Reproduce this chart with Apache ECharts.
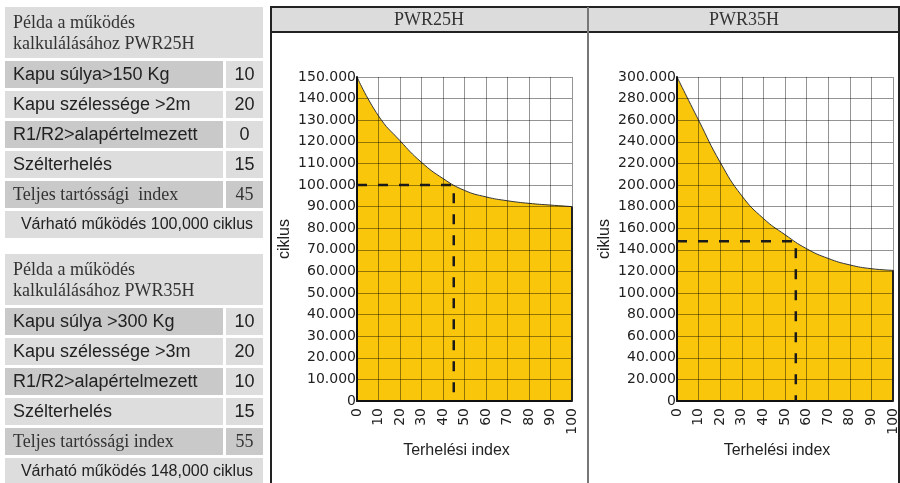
<!DOCTYPE html>
<html>
<head>
<meta charset="utf-8">
<script src="https://cdn.jsdelivr.net/npm/echarts@6/dist/echarts.min.js"></script>
<style>
  html, body { margin: 0; padding: 0; background: #fff; }
  #main { width: 900px; height: 483px; }
</style>
</head>
<body>
<div id="main"></div>
<script>
// adatok
var loadIndex = [0, 10, 20, 30, 40, 50, 60, 70, 80, 90, 100];
var cycles25 = [150000, 132000, 120500, 110500, 103000, 97500, 94500, 92700, 91500, 90700, 90000];
var cycles35 = [300000, 260000, 221000, 190000, 169000, 154000, 141000, 132000, 126000, 122500, 121000];
var refPoint25 = [45, 100000];
var refPoint35 = [55, 148000];
var panelTitles = ['PWR25H', 'PWR35H'];

var table25Title = ['Példa a működés', 'kalkulálásához PWR25H'];
var table25Labels = ['Kapu súlya>150 Kg', 'Kapu szélessége >2m', 'R1/R2>alapértelmezett', 'Szélterhelés', 'Teljes tartóssági  index'];
var table25Values = [10, 20, 0, 15, 45];
var table25Result = 'Várható működés 100,000 ciklus';

var table35Title = ['Példa a működés', 'kalkulálásához PWR35H'];
var table35Labels = ['Kapu súlya >300 Kg', 'Kapu szélessége >3m', 'R1/R2>alapértelmezett', 'Szélterhelés', 'Teljes tartóssági index'];
var table35Values = [10, 20, 10, 15, 55];
var table35Result = 'Várható működés 148,000 ciklus';

var SANS = "'Liberation Sans', Arial, sans-serif";
var SERIF = "'Liberation Serif', 'Times New Roman', serif";
var DARK = '#c9c9c9';
var LIGHT = '#dddddd';

function thousands(v) {
    return String(v).replace(/\B(?=(\d{3})+(?!\d))/g, '.');
}

// bal oldali táblázat
function buildTable(top, title, labels, values, result) {
    var els = [];
    els.push({ type: 'rect', shape: { x: 5, y: top, width: 258, height: 51 }, style: { fill: LIGHT } });
    title.forEach(function (line, i) {
        els.push({ type: 'text', x: 13, y: top + 16 + i * 21,
            style: { text: line, font: '18px ' + SERIF, fill: '#333', verticalAlign: 'middle' } });
    });
    labels.forEach(function (lab, i) {
        var y = top + 54 + i * 30;
        var last = i === labels.length - 1;
        els.push({ type: 'rect', shape: { x: 5, y: y, width: 218, height: 27 }, style: { fill: i % 2 === 0 ? DARK : LIGHT } });
        els.push({ type: 'rect', shape: { x: 226, y: y, width: 37, height: 27 }, style: { fill: last ? DARK : LIGHT } });
        els.push({ type: 'text', x: 13, y: y + 14,
            style: { text: lab, font: '18px ' + (last ? SERIF : SANS), fill: last ? '#333' : '#222', verticalAlign: 'middle' } });
        els.push({ type: 'text', x: 244.5, y: y + 14,
            style: { text: String(values[i]), font: '18px ' + (last ? SERIF : SANS), fill: last ? '#333' : '#222', align: 'center', verticalAlign: 'middle' } });
    });
    var ry = top + 54 + labels.length * 30;
    els.push({ type: 'rect', shape: { x: 5, y: ry, width: 258, height: 27 }, style: { fill: LIGHT } });
    els.push({ type: 'text', x: 137, y: ry + 14,
        style: { text: result, font: '16px ' + SANS, fill: '#222', align: 'center', verticalAlign: 'middle' } });
    return els;
}

var graphics = [].concat(
    buildTable(7, table25Title, table25Labels, table25Values, table25Result),
    buildTable(254, table35Title, table35Labels, table35Values, table35Result),
    [
        { type: 'rect', shape: { x: 271, y: 7, width: 628, height: 25 }, style: { fill: '#dcdcdc' } },
        { type: 'rect', shape: { x: 271, y: 7, width: 628, height: 490 }, style: { fill: null, stroke: '#222', lineWidth: 2 } },
        { type: 'line', shape: { x1: 270, y1: 32, x2: 900, y2: 32 }, style: { stroke: '#222', lineWidth: 2 } },
        { type: 'line', shape: { x1: 588, y1: 7, x2: 588, y2: 483 }, style: { stroke: '#777', lineWidth: 2 } },
        { type: 'text', x: 429, y: 20, style: { text: panelTitles[0], font: '18px ' + SERIF, fill: '#333', align: 'center', verticalAlign: 'middle' } },
        { type: 'text', x: 744, y: 20, style: { text: panelTitles[1], font: '18px ' + SERIF, fill: '#333', align: 'center', verticalAlign: 'middle' } }
    ]
);

function xAxisOf(i) {
    return {
        gridIndex: i, type: 'value', min: 0, max: 100, interval: 10, z: 3,
        name: 'Terhelési index', nameLocation: 'middle', nameGap: 38,
        nameTextStyle: { fontFamily: SANS, fontSize: 16, color: '#222', padding: [0, 16, 0, 0] },
        axisLine: { onZero: false, lineStyle: { color: '#111', width: 2 } },
        axisTick: { show: false },
        axisLabel: { rotate: 90, margin: 7, fontFamily: 'DejaVu Sans', fontSize: 14, color: '#222' },
        splitLine: { lineStyle: { color: 'rgba(0,0,0,0.42)', width: 1 } }
    };
}

function yAxisOf(i, max, step) {
    return {
        gridIndex: i, type: 'value', min: 0, max: max, interval: step, z: 3,
        name: 'ciklus', nameLocation: 'middle', nameGap: 64,
        nameTextStyle: { fontFamily: SANS, fontSize: 16, color: '#222' },
        axisLine: { show: true, lineStyle: { color: '#111', width: 2 } },
        axisTick: { show: false },
        axisLabel: { margin: 1, fontFamily: 'DejaVu Sans', fontSize: 14, color: '#222', formatter: thousands },
        splitLine: { lineStyle: { color: 'rgba(0,0,0,0.42)', width: 1 } }
    };
}

function curveSeries(i, values) {
    return {
        type: 'line', xAxisIndex: i, yAxisIndex: i, z: 2,
        data: loadIndex.map(function (x, k) { return [x, values[k]]; }),
        smooth: 0.5, symbol: 'none',
        lineStyle: { color: '#333', width: 1 },
        areaStyle: { color: '#fac60b', opacity: 1 }
    };
}

function edgeSeries(i, values) {
    return {
        type: 'line', xAxisIndex: i, yAxisIndex: i, z: 4, symbol: 'none',
        data: [[loadIndex[loadIndex.length - 1], 0], [loadIndex[loadIndex.length - 1], values[values.length - 1]]],
        lineStyle: { color: '#222', width: 2 }
    };
}

function refSeries(i, p) {
    return {
        type: 'line', xAxisIndex: i, yAxisIndex: i, z: 5, symbol: 'none',
        data: [[0, p[1]], [p[0], p[1]], [p[0], 0]],
        lineStyle: { color: '#1a1a1a', width: 2.5, type: [10, 11] }
    };
}

var myChart = echarts.init(document.getElementById('main'));
var option = {
    animation: false,
    graphic: graphics,
    grid: [
        { left: 357, right: 328, top: 77, bottom: 82 },
        { left: 677, right: 7, top: 77, bottom: 82 }
    ],
    xAxis: [xAxisOf(0), xAxisOf(1)],
    yAxis: [yAxisOf(0, 150000, 10000), yAxisOf(1, 300000, 20000)],
    series: [
        curveSeries(0, cycles25),
        curveSeries(1, cycles35),
        edgeSeries(0, cycles25),
        edgeSeries(1, cycles35),
        refSeries(0, refPoint25),
        refSeries(1, refPoint35)
    ]
};
option && myChart.setOption(option);
</script>
</body>
</html>
